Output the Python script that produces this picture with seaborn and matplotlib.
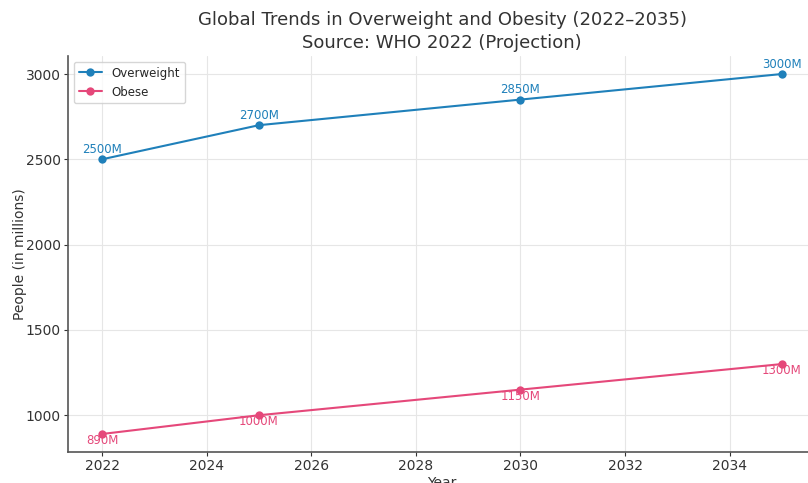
import matplotlib
matplotlib.use("Agg")
import matplotlib.pyplot as plt
import seaborn as sns
import pandas as pd

years = [2022, 2025, 2030, 2035]
overweight = [2500, 2700, 2850, 3000]
obese = [890, 1000, 1150, 1300]
series_names = ["Overweight", "Obese"]
colors = ["#1f80ba", "#e5487a"]

df = pd.DataFrame({
    "Year": years * 2,
    "People": overweight + obese,
    "Series": [series_names[0]] * len(years) + [series_names[1]] * len(years),
})

sns.set_style("whitegrid", {"grid.color": "#e6e6e6", "axes.edgecolor": "#555555"})
plt.rcParams["font.family"] = ["DejaVu Sans"]

fig = plt.figure(figsize=(8.08, 4.83), dpi=100)
ax = fig.add_axes([68 / 808, (483 - 452) / 483, (816 - 68) / 808, (452 - 56) / 483])

sns.lineplot(data=df, x="Year", y="People", hue="Series", palette=colors,
             marker="o", markersize=6, markeredgewidth=0, linewidth=1.5, ax=ax)

for x, y in zip(years, overweight):
    ax.annotate(f"{y}M", (x, y), xytext=(0, 2.5), textcoords="offset points",
                ha="center", va="bottom", fontsize=8.5, color=colors[0])
for x, y in zip(years, obese):
    ax.annotate(f"{y}M", (x, y), xytext=(0, 0), textcoords="offset points",
                ha="center", va="top", fontsize=8.5, color=colors[1])

ax.set_xticks([2022, 2024, 2026, 2028, 2030, 2032, 2034])
ax.set_yticks([1000, 1500, 2000, 2500, 3000])
ax.tick_params(axis="both", labelsize=10, colors="#333333", length=3, width=0.8,
               labelcolor="#333333", left=True, bottom=True, pad=2)
ax.set_xlabel("Year", fontsize=10, color="#333333", labelpad=2)
ax.set_ylabel("People (in millions)", fontsize=10, color="#333333", labelpad=-1)
ax.set_title("Global Trends in Overweight and Obesity (2022\u20132035)\nSource: WHO 2022 (Projection)",
             fontsize=13, color="#333333", pad=6, linespacing=1.3)
for s in ["top", "right"]:
    ax.spines[s].set_visible(False)
for s in ["left", "bottom"]:
    ax.spines[s].set_color("#555555")
    ax.spines[s].set_linewidth(1.2)

leg = ax.legend(loc="upper left", fontsize=8.5, frameon=True, title=None)
leg.get_frame().set_edgecolor("#cccccc")

fig.savefig("out.png", dpi=100)
